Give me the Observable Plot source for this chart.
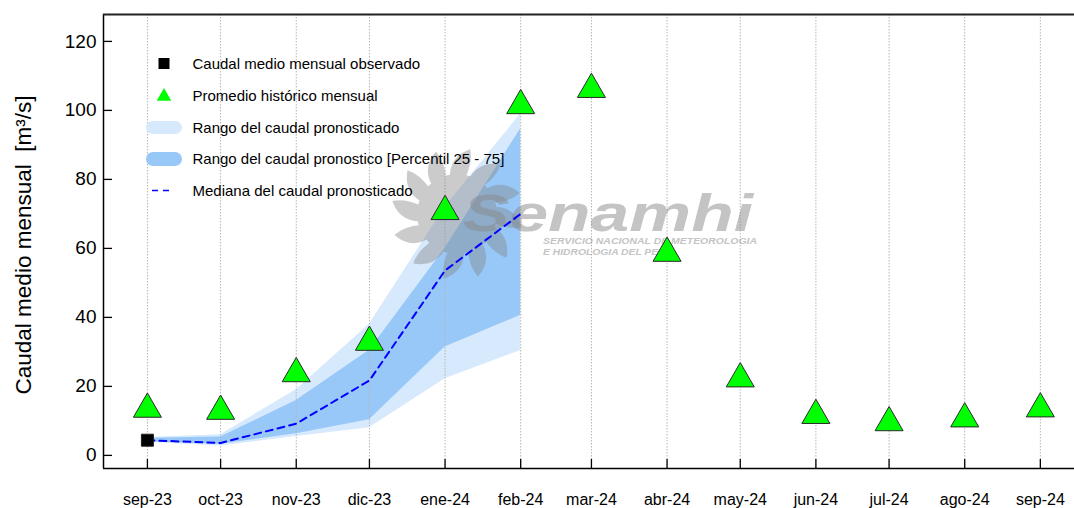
<!DOCTYPE html>
<html>
<head>
<meta charset="utf-8">
<script src="https://cdn.jsdelivr.net/npm/d3@7"></script>
<script src="https://cdn.jsdelivr.net/npm/@observablehq/plot@0.6"></script>
<style>
  html, body { margin: 0; padding: 0; background: #fff; }
  svg { font-family: "Liberation Sans", Arial, sans-serif; }
</style>
</head>
<body>
<div id="chart"></div>
<script>
// ---- data ----
const monthLabels = ["sep-23","oct-23","nov-23","dic-23","ene-24","feb-24","mar-24","abr-24","may-24","jun-24","jul-24","ago-24","sep-24"];
const monthDates  = ["2023-09-01","2023-10-01","2023-11-01","2023-12-01","2024-01-01","2024-02-01","2024-03-01","2024-04-01","2024-05-01","2024-06-01","2024-07-01","2024-08-01","2024-09-01"];
const historicalMean = [13.4, 12.8, 23.7, 32.8, 70.7, 101.4, 106.1, 58.6, 22.2, 11.6, 9.5, 10.6, 13.5];
const observedMonths = ["2023-09-01"];
const observedValues = [4.4];
const forecastMonths = ["2023-09-01","2023-10-01","2023-11-01","2023-12-01","2024-01-01","2024-02-01"];
const rangeLow   = [3.8, 2.7, 5.5, 8.0, 22.2, 30.4];
const rangeHigh  = [5.2, 6.0, 19.0, 38.0, 72.0, 99.0];
const p25        = [3.9, 3.2, 6.3, 10.3, 31.4, 40.6];
const p75        = [5.0, 5.3, 15.9, 30.5, 60.0, 94.7];
const medianFc   = [4.4, 3.6, 9.2, 21.7, 53.6, 70.0];
const yTicks = [0, 20, 40, 60, 80, 100, 120];
const legendLabels = [
  "Caudal medio mensual observado",
  "Promedio histórico mensual",
  "Rango del caudal pronosticado",
  "Rango del caudal pronostico [Percentil 25 - 75]",
  "Mediana del caudal pronosticado"
];

// ---- tables ----
const parse = d3.utcParse("%Y-%m-%d");
const months = monthDates.map((d, i) => ({date: parse(d), label: monthLabels[i], hist: historicalMean[i]}));
const obs = observedMonths.map((d, i) => ({date: parse(d), value: observedValues[i]}));
const fc = forecastMonths.map((d, i) => ({
  date: parse(d), lo: rangeLow[i], hi: rangeHigh[i], q1: p25[i], q3: p75[i], med: medianFc[i]
}));
const labelOf = new Map(months.map(m => [+m.date, m.label]));

const W = 1074, H = 508, ML = 103, MT = 14, MR = 0, MB = 40;
const yDom = [-3.8, 127.8];
const xDom = [parse("2023-08-14"), parse("2024-09-15")];
const frameW = W - ML - MR, frameH = H - MT - MB;

const cLight = "#d6e9fd", cMid = "#98c8f8";

const chart = Plot.plot({
  width: W, height: H,
  marginLeft: ML, marginTop: MT, marginRight: MR, marginBottom: MB,
  style: {fontFamily: "Liberation Sans, Arial, sans-serif", background: "#fff"},
  x: {type: "utc", domain: xDom},
  y: {domain: yDom},
  marks: [
    Plot.areaY(fc, {x: "date", y1: "lo", y2: "hi", fill: cLight}),
    Plot.areaY(fc, {x: "date", y1: "q1", y2: "q3", fill: cMid}),
    Plot.ruleX(months, {x: "date", stroke: "#b5b5b5", strokeWidth: 1, strokeDasharray: "1.5,1.5"}),
    Plot.lineY(fc, {x: "date", y: "med", stroke: "#0000ff", strokeWidth: 2, strokeDasharray: "7,5"}),
    Plot.dot(months, {x: "date", y: "hist", symbol: "triangle", r: 10.4, fill: "#00ff00", stroke: "#2a2a2a", strokeWidth: 1}),
    Plot.dot(obs, {x: "date", y: "value", symbol: "square", r: 6.77, fill: "#000", stroke: "#222", strokeWidth: 1}),
    // inward ticks
    Plot.tickY(yTicks, {y: d => d, stroke: "#000", strokeWidth: 1.3, insetRight: frameW - 9}),
    Plot.tickX(months, {x: "date", stroke: "#000", strokeWidth: 1.3, insetTop: frameH - 9}),
    Plot.axisY(yTicks, {tickSize: 0, tickPadding: 7, fontSize: 19, fill: "#000", label: null}),
    Plot.axisX(months.map(m => m.date), {tickSize: 0, tickPadding: 25, fontSize: 16, fill: "#000", tickFormat: d => labelOf.get(+d), label: null}),
    // frame (left, top, bottom)
    Plot.ruleX([xDom[0]], {stroke: "#000", strokeWidth: 1.5}),
    Plot.ruleY([yDom[0]], {stroke: "#000", strokeWidth: 1.5}),
    Plot.ruleY([yDom[1]], {stroke: "#222", strokeWidth: 2})
  ]
});
document.getElementById("chart").appendChild(chart);

const svg = d3.select(chart);

// ---- watermark (decorative logo) ----
const wm = svg.insert("g", 'g[aria-label="line"]').attr("opacity", 0.4).attr("fill", "#808080");
{
  const cx = 457, cy = 214;
  // sun petals: curved flame-like rays around a central disc
  let d = "";
  for (let k = 0; k < 12; k++) {
    const a = k * Math.PI / 6;
    const p = (r, da) => [cx + r * Math.cos(a + da), cy + r * Math.sin(a + da)];
    const b1 = p(36, -0.2), b2 = p(36, 0.22), tip = p(66, 0.2), c1 = p(58, -0.14), c2 = p(54, 0.3);
    d += `M${b1}Q${c1} ${tip}Q${c2} ${b2}Z`;
  }
  wm.append("path").attr("d", d);
  wm.append("circle").attr("cx", cx).attr("cy", cy).attr("r", 40);
}
const wmText = svg.insert("g", 'g[aria-label="line"]').attr("fill", "#8a8a8a").attr("opacity", 0.5)
  .attr("text-anchor", "start")
  .attr("font-family", "Liberation Sans, Arial, sans-serif").attr("font-weight", "bold").attr("font-style", "italic");
wmText.append("text").attr("x", 463).attr("y", 231).attr("font-size", 52)
  .attr("textLength", 290).attr("lengthAdjust", "spacingAndGlyphs").text("Senamhi");
wmText.append("text").attr("x", 543).attr("y", 244).attr("font-size", 9.5)
  .attr("textLength", 214).attr("lengthAdjust", "spacingAndGlyphs").text("SERVICIO NACIONAL DE METEOROLOGIA");
wmText.append("text").attr("x", 543).attr("y", 255).attr("font-size", 9.5)
  .attr("textLength", 130).attr("lengthAdjust", "spacingAndGlyphs").text("E HIDROLOGIA DEL PERU");

// ---- y axis title ----
svg.append("text")
  .attr("transform", "translate(31,245) rotate(-90)")
  .attr("text-anchor", "middle")
  .attr("font-size", 22.5)
  .attr("fill", "#000")
  .style("white-space", "pre")
  .text("Caudal medio mensual  [m³/s]");

// ---- legend ----
const lg = svg.append("g").attr("font-size", 15).attr("fill", "#000").attr("text-anchor", "start");
const rows = [64, 95.5, 127.5, 159, 190.5];
const lx = 164, tx = 192.5;
lg.append("rect").attr("x", lx - 5.5).attr("y", rows[0] - 6).attr("width", 11).attr("height", 11).attr("fill", "#000");
lg.append("path").attr("d", d3.symbol(d3.symbolTriangle, Math.PI * 5.4 * 5.4)()).attr("transform", `translate(${lx},${rows[1] + 1})`).attr("fill", "#00ff00");
lg.append("rect").attr("x", lx - 18).attr("y", rows[2] - 6.5).attr("width", 36).attr("height", 13).attr("rx", 6.5).attr("fill", cLight);
lg.append("rect").attr("x", lx - 18).attr("y", rows[3] - 7).attr("width", 36).attr("height", 14).attr("rx", 7).attr("fill", cMid);
lg.append("line").attr("x1", lx - 12).attr("x2", lx + 8).attr("y1", rows[4]).attr("y2", rows[4])
  .attr("stroke", "#0000ff").attr("stroke-width", 1.5).attr("stroke-dasharray", "6,5");
legendLabels.forEach((t, i) => {
  lg.append("text").attr("x", tx).attr("y", rows[i]).attr("dy", "0.35em").attr("text-anchor", "start").text(t);
});
</script>
</body>
</html>
